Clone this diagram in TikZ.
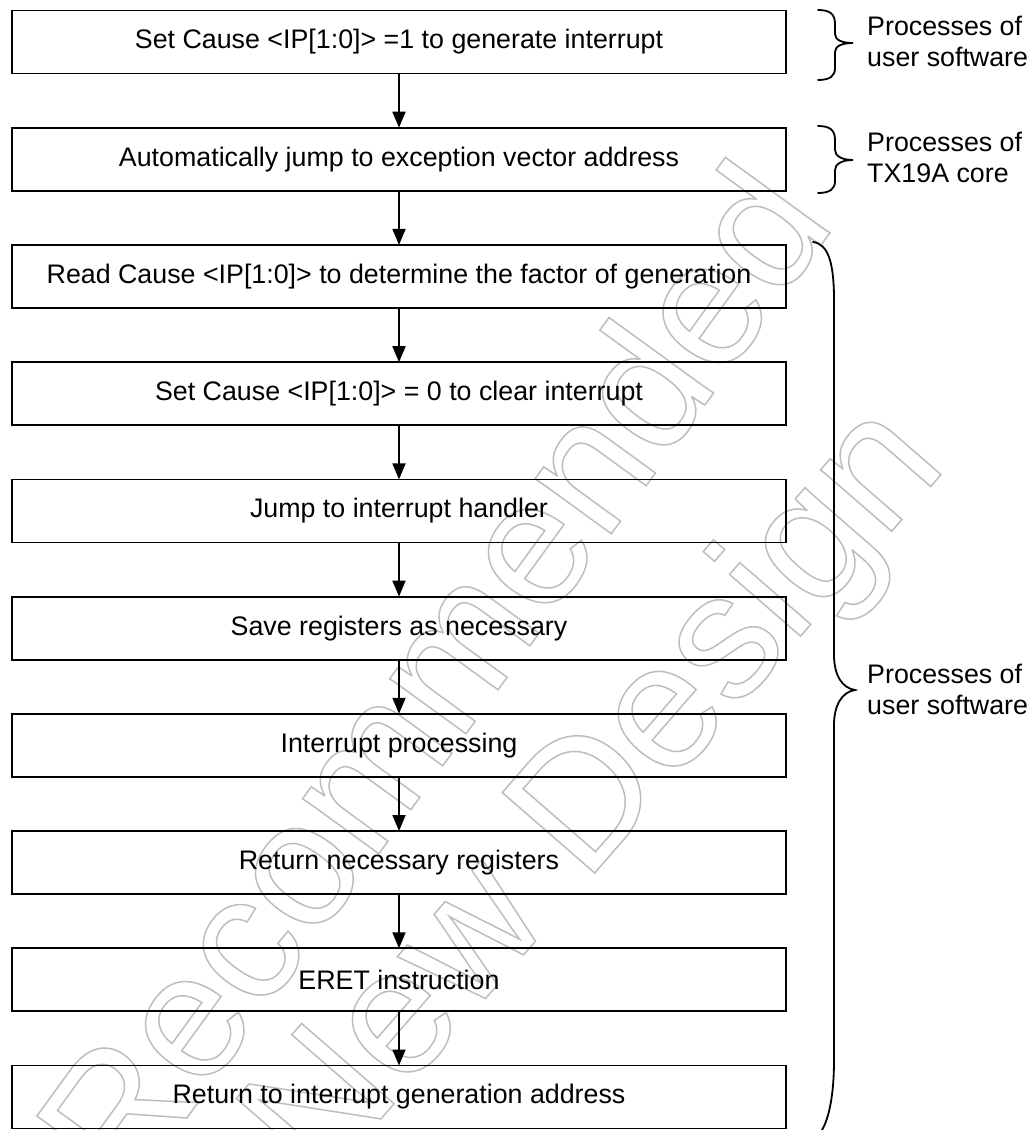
\documentclass[tikz,border=0pt]{standalone}
\usepackage{fontspec}
\setmainfont{Liberation Sans}
\usetikzlibrary{arrows.meta}

\definecolor{wmgray}{gray}{0.74}

% stroke-only text for the watermark
\newcommand\hollowtext[1]{\special{pdf:literal direct 1 Tr 1.5 w}#1\special{pdf:literal direct 0 Tr}}

\tikzset{
  stepbox/.style={draw, line width=1.8pt, minimum width=774pt, minimum height=63pt,
    inner sep=0pt, outer sep=0pt, font=\fontsize{26.8}{31}\selectfont},
  flow/.style={line width=1.8pt, -{Triangle[length=16pt,width=13pt]}},
  brace/.style={line width=1.8pt, line cap=round},
  side/.style={anchor=west, inner sep=0pt, align=left, font=\fontsize{26.8}{31}\selectfont},
  wmark/.style={inner sep=0pt, anchor=mid, text=wmgray,
    font=\fontsize{178}{178}\selectfont}
}

\begin{document}
\begin{tikzpicture}[x=1pt, y=-1pt]
\useasboundingbox (0,0) rectangle (1036,1130);

% watermark lettering
\begin{scope}
\node[wmark, rotate=54] (wm1) at (480,710) {\hollowtext{Recommended}};
\node[wmark, rotate=49] (wm2) at (632,826) {\hollowtext{New Design}};
\end{scope}

% process steps
\node[stepbox] (s1)  at (399, 42.0) {Set Cause <IP[1:0]> =1 to generate interrupt};
\node[stepbox] (s2)  at (399,159.2) {Automatically jump to exception vector address};
\node[stepbox] (s3)  at (399,276.4) {Read Cause <IP[1:0]> to determine the factor of generation};
\node[stepbox] (s4)  at (399,393.7) {Set Cause <IP[1:0]> = 0 to clear interrupt};
\node[stepbox] (s5)  at (399,510.9) {Jump to interrupt handler};
\node[stepbox] (s6)  at (399,628.1) {Save registers as necessary};
\node[stepbox] (s7)  at (399,745.3) {Interrupt processing};
\node[stepbox] (s8)  at (399,862.5) {Return necessary registers};
\node[stepbox] (s9)  at (399,979.8) {ERET instruction};
\node[stepbox] (s10) at (399,1097.0) {Return to interrupt generation address};

\foreach \a/\b in {s1/s2,s2/s3,s3/s4,s4/s5,s5/s6,s6/s7,s7/s8,s8/s9,s9/s10}
  \draw[flow] (\a.south) -- (\b.north);

% braces grouping the steps
\draw[brace] (818,10) .. controls (830,10) and (835,14) .. (835,24) -- (835,34)
  .. controls (835,40) and (842,43) .. (853,43)
  .. controls (842,43) and (835,46) .. (835,52) -- (835,68)
  .. controls (835,76) and (830,80) .. (818,80);
\draw[brace] (818,126) .. controls (830,126) and (835,130) .. (835,140) -- (835,150)
  .. controls (835,156) and (842,160) .. (853,160)
  .. controls (842,160) and (835,164) .. (835,170) -- (835,181)
  .. controls (835,189) and (830,193) .. (818,193);
\draw[brace] (813,242) .. controls (828,244) and (834,262) .. (834,300) -- (834,655)
  .. controls (834,675) and (842,688) .. (855,690)
  .. controls (842,692) and (834,705) .. (834,725) -- (834,1060)
  .. controls (834,1095) and (829,1118) .. (822,1130);

\node[side] (l1) at (867,41)  {Processes of\\user software};
\node[side] (l2) at (867,157) {Processes of\\TX19A core};
\node[side] (l3) at (867,689) {Processes of\\user software};
\end{tikzpicture}
\end{document}
